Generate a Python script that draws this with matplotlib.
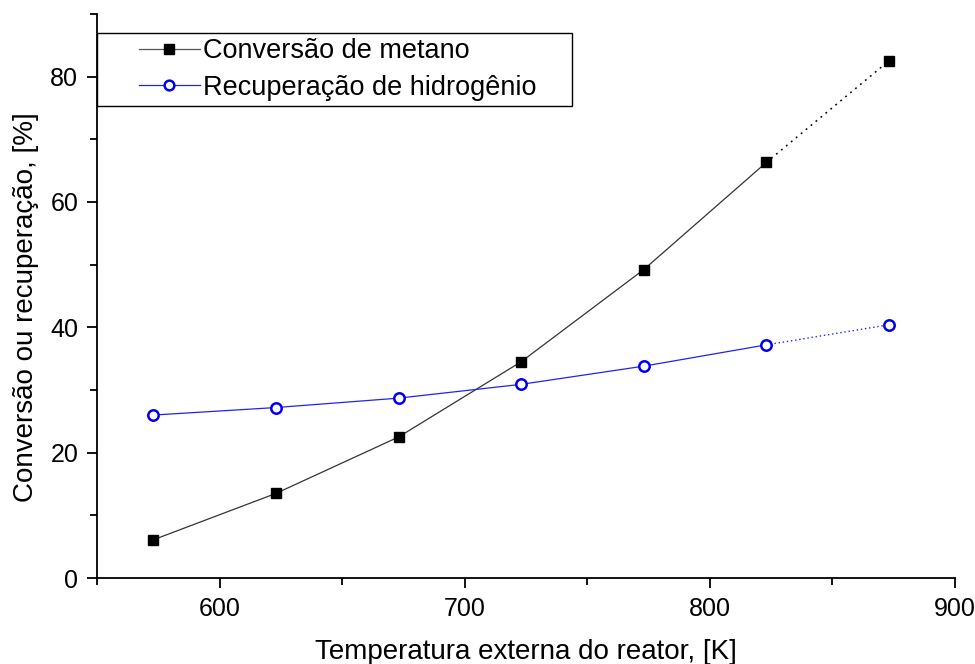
import matplotlib.pyplot as plt
from matplotlib.ticker import MultipleLocator
from matplotlib.legend_handler import HandlerLine2D

plt.rcParams['font.family'] = ['Liberation Sans', 'DejaVu Sans']

temp = [573, 623, 673, 723, 773, 823, 873]
conv_metano = [6.1, 13.5, 22.5, 34.5, 49.2, 66.3, 82.5]
rec_h2 = [26.0, 27.2, 28.7, 30.9, 33.8, 37.2, 40.4]

fig = plt.figure(figsize=(9.75, 6.64), dpi=100)
ax = fig.add_axes([0.0995, 0.1295, 0.88, 0.8495])

# solid up to 823 K, dotted for the last segment
ax.plot(temp[:-1], conv_metano[:-1], color='#333333', lw=0.9)
ax.plot(temp[-2:], conv_metano[-2:], color='black', lw=1.1, ls=(0, (1.2, 3)))
ax.plot(temp, conv_metano, ls='none', marker='s', ms=7.5, color='black')
ax.plot(temp[:-1], rec_h2[:-1], color='#2222ee', lw=0.9)
ax.plot(temp[-2:], rec_h2[-2:], color='#2222ee', lw=1.0, ls=(0, (1, 2)))
ax.plot(temp, rec_h2, ls='none', marker='o', ms=7.5, mfc='white', mec='#0000ee', mew=1.8)

# legend proxies
h1, = ax.plot([], [], color='#555555', lw=0.9, marker='s', ms=7.5, mfc='black', mec='black')
h2, = ax.plot([], [], color='#2222ee', lw=0.9, marker='o', ms=7, mfc='white', mec='#0000ee', mew=1.8)
hmap = {h1: HandlerLine2D(xpad=1.35), h2: HandlerLine2D(xpad=1.35)}
leg = ax.legend([h1, h2], ['Conversão de metano', 'Recuperação de hidrogênio'],
                handler_map=hmap, loc='upper left',
                bbox_to_anchor=(0.0, 0.9663, 0.5536, 0.0), mode='expand',
                fontsize=19.5, handlelength=3.6, handletextpad=0.1, borderpad=0.2,
                labelspacing=0.38, fancybox=False, framealpha=1, borderaxespad=0)
leg.get_frame().set_edgecolor('black')
leg.get_frame().set_linewidth(1.0)

ax.set_xlim(550, 900)
ax.set_ylim(0, 90)
ax.xaxis.set_major_locator(MultipleLocator(100))
ax.xaxis.set_minor_locator(MultipleLocator(50))
ax.yaxis.set_major_locator(MultipleLocator(20))
ax.yaxis.set_minor_locator(MultipleLocator(10))
ax.spines['top'].set_visible(False)
ax.spines['right'].set_visible(False)
ax.spines['left'].set_linewidth(1.3)
ax.spines['bottom'].set_linewidth(1.3)
ax.tick_params(which='major', direction='out', length=7.5, width=1.3, labelsize=18, pad=6)
ax.tick_params(which='minor', direction='out', length=5, width=1.3)
ax.set_xlabel('Temperatura externa do reator, [K]', fontsize=20, labelpad=13)
ax.set_ylabel('Conversão ou recuperação, [%]', fontsize=20)
ax.yaxis.set_label_coords(-0.068, 0.48)

fig.savefig('out.png', dpi=100)
